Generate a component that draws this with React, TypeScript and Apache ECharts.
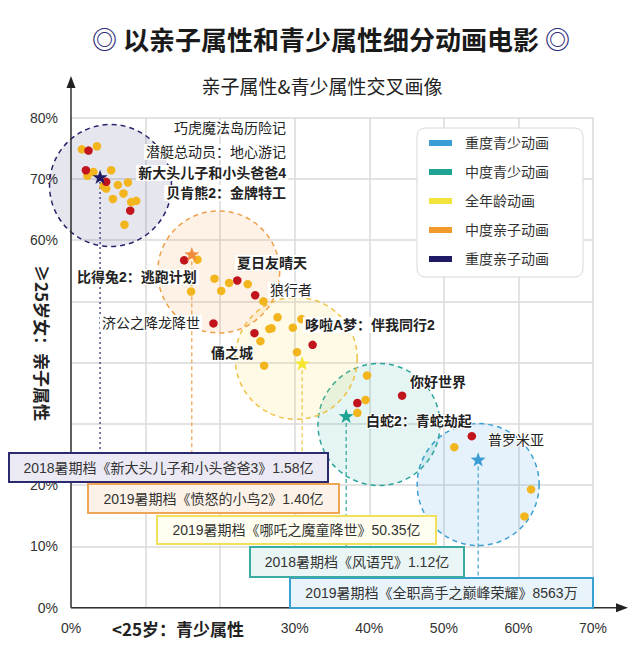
import React, { useEffect, useRef } from "react";
import * as echarts from "echarts";

// ---------- data ----------
const categories = ["重度青少动画", "中度青少动画", "全年龄动画", "中度亲子动画", "重度亲子动画"];
// circle centres (x: <25岁 %, y: ≥25岁女 %)
const circleCenters: [number, number][] = [
  [54.6, 20.1],
  [41.3, 29.9],
  [30.2, 40.7],
  [19.8, 54.8],
  [5.3, 68.9],
];
// star (representative film) positions
const starPoints: [number, number][] = [
  [54.6, 24.2],
  [36.9, 31.3],
  [31.0, 39.9],
  [16.2, 57.7],
  [3.9, 70.3],
];
// where each dashed drop line ends (y %)
const dropEnds = [4.8, 9.9, 14.9, 20.2, 25.2];

// representative film box-office annotations (same order as categories)
const boxTexts = [
  "2019暑期档《全职高手之巅峰荣耀》8563万",
  "2018暑期档《风语咒》1.12亿",
  "2019暑期档《哪吒之魔童降世》50.35亿",
  "2019暑期档《愤怒的小鸟2》1.40亿",
  "2018暑期档《新大头儿子和小头爸爸3》1.58亿",
];

// labelled films (red dots)
const labelledNames = [
  "巧虎魔法岛历险记", "潜艇总动员：地心游记", "新大头儿子和小头爸爸4", "贝肯熊2：金牌特工",
  "比得兔2：逃跑计划", "夏日友晴天", "狼行者", "济公之降龙降世",
  "俑之城", "哆啦A梦：伴我同行2", "你好世界", "白蛇2：青蛇劫起", "普罗米亚",
];
const labelledX = [2.35, 2.0, 4.72, 7.94, 15.18, 22.3, 24.7, 19.1, 24.6, 32.4, 44.4, 38.4, 53.75];
const labelledY = [74.6, 71.4, 69.5, 64.8, 56.7, 53.4, 51.0, 46.4, 44.8, 42.9, 34.6, 33.4, 28.0];

// other films (yellow dots)
const otherFilms: [number, number][] = [
  [1.46, 74.8], [3.47, 75.3], [2.2, 70.5], [3.0, 71.1], [5.39, 71.4], [4.36, 68.8], [4.72, 68.4],
  [6.29, 69.0], [7.63, 69.4], [7.04, 67.6], [5.62, 66.7], [8.07, 66.2], [8.74, 66.4], [7.17, 62.5],
  [16.96, 56.8], [19.24, 53.7], [20.14, 51.7], [21.2, 53.0], [23.7, 52.8], [16.1, 51.6], [25.8, 50.0],
  [27.7, 47.4], [30.9, 47.1], [26.6, 45.5], [26.9, 45.6], [29.75, 45.7], [25.4, 43.5], [30.3, 41.7],
  [25.9, 39.5], [39.7, 37.9], [39.5, 33.9], [38.4, 31.8], [51.4, 26.2], [61.7, 19.3], [60.8, 14.9],
];

const xTicks = [0, 10, 20, 30, 40, 50, 60, 70];
const yTicks = [0, 10, 20, 30, 40, 50, 60, 70, 80];
const xHiddenTicks = [10, 20];
const yHiddenTicks = [30, 40, 50];

// ---------- styles / layout ----------
const FONT = '"Liberation Sans", "Noto Sans CJK SC", sans-serif';
const solidColors = ["#3a9dd6", "#1fa395", "#f2e43c", "#f39a2d", "#1e1a63"];
const circleFills = [
  "rgba(50,150,220,0.12)",
  "rgba(40,170,165,0.12)",
  "rgba(250,220,60,0.13)",
  "rgba(245,150,60,0.12)",
  "rgba(30,25,100,0.11)",
];
const circleBorders = ["#3d9fd2", "#2ba59a", "#efc24a", "#efa04a", "#27246b"];
const starColors = ["#3a9dd6", "#1fa395", "#f5e52e", "#f08a3c", "#1e1a63"];
const boxBorders = ["#3b9fd0", "#3aaba0", "#f1e05a", "#f0a657", "#2b2a6e"];
const boxFills = ["#e8f3fa", "#e9f6f5", "#fffef0", "#fdf2e7", "#ebeaf4"];
const boxRects = [
  { x: 290, y: 578, w: 303, h: 30 },
  { x: 250, y: 547, w: 214, h: 30 },
  { x: 157, y: 516, w: 279, h: 28 },
  { x: 88, y: 484, w: 251, h: 29 },
  { x: 9, y: 453, w: 319, h: 29 },
];
const labelLayout = [
  { x: 288, y: 128, align: "right", bold: false, bg: true },
  { x: 288, y: 152, align: "right", bold: false, bg: true },
  { x: 288, y: 173, align: "right", bold: true, bg: true },
  { x: 288, y: 193, align: "right", bold: true, bg: true },
  { x: 75, y: 277, align: "left", bold: true, bg: true },
  { x: 235, y: 263, align: "left", bold: true, bg: true },
  { x: 268, y: 290, align: "left", bold: false, bg: true },
  { x: 202, y: 323, align: "right", bold: false, bg: true },
  { x: 211, y: 353, align: "left", bold: true, bg: false },
  { x: 303, y: 325, align: "left", bold: true, bg: true },
  { x: 410, y: 382, align: "left", bold: true, bg: false },
  { x: 366, y: 421, align: "left", bold: true, bg: false },
  { x: 488, y: 440, align: "left", bold: false, bg: false },
];

const GRID = { left: 71, right: 47, top: 117.5, bottom: 46.3 };
const AX0 = { x: 71, y: 654 - 46.3 };

const STAR =
  "path://M0,-10 L2.35,-3.24 L9.51,-3.09 L3.8,1.24 L5.88,8.09 L0,4 L-5.88,8.09 L-3.8,1.24 L-9.51,-3.09 L-2.35,-3.24 Z";

function buildOption() {
  const series: any[] = [];
  // stars first so legend takes their colour
  categories.forEach((c, i) => {
    series.push({
      name: c,
      type: "scatter",
      z: 6,
      symbol: STAR,
      symbolKeepAspect: true,
      symbolSize: 15,
      itemStyle: { color: starColors[i], opacity: 1 },
      data: [starPoints[i]],
    });
  });
  categories.forEach((c, i) => {
    series.push({
      name: c,
      type: "scatter",
      z: 1,
      symbol: "circle",
      symbolSize: 122,
      silent: true,
      itemStyle: {
        color: circleFills[i],
        borderColor: circleBorders[i],
        borderWidth: 1.5,
        borderType: [5, 4],
        opacity: 1,
      },
      data: [circleCenters[i]],
    });
    series.push({
      type: "line",
      z: 2,
      symbol: "none",
      silent: true,
      lineStyle: { color: circleBorders[i], width: 1.2, type: i === 4 ? [2, 3] : [4, 3] },
      data: [starPoints[i], [starPoints[i][0], dropEnds[i]]],
    });
  });
  series.push({
    type: "scatter",
    z: 3,
    symbolSize: 8.5,
    itemStyle: { color: "#f2b51e", opacity: 1 },
    data: otherFilms,
  });
  series.push({
    type: "scatter",
    z: 4,
    symbolSize: 8.5,
    itemStyle: { color: "#c1141c", opacity: 1 },
    data: labelledNames.map((n, i) => ({ name: n, value: [labelledX[i], labelledY[i]] })),
  });

  const graphic: any[] = [];
  // axes with arrows
  graphic.push({
    type: "line",
    z: 50,
    shape: { x1: AX0.x, y1: AX0.y, x2: AX0.x, y2: 86 },
    style: { stroke: "#333", lineWidth: 1.5 },
  });
  graphic.push({
    type: "polygon",
    z: 50,
    shape: { points: [[AX0.x, 76], [AX0.x - 4.5, 88], [AX0.x + 4.5, 88]] },
    style: { fill: "#222" },
  });
  graphic.push({
    type: "line",
    z: 50,
    shape: { x1: AX0.x, y1: AX0.y, x2: 618, y2: AX0.y },
    style: { stroke: "#333", lineWidth: 1.5 },
  });
  graphic.push({
    type: "polygon",
    z: 50,
    shape: { points: [[628, AX0.y], [616, AX0.y - 4.5], [616, AX0.y + 4.5]] },
    style: { fill: "#222" },
  });
  // titles
  graphic.push({
    type: "text",
    z: 60,
    x: 331,
    y: 38,
    style: {
      text: "{r|◎} 以亲子属性和青少属性细分动画电影 {r|◎}",
      align: "center",
      verticalAlign: "middle",
      fill: "#1a1a1a",
      font: 'bold 26px "Noto Sans CJK SC", sans-serif',
      rich: {
        r: { fill: "#2e2b7c", fontSize: 25, fontWeight: "bold", fontFamily: '"Noto Sans CJK SC", sans-serif' },
      },
    },
  });
  graphic.push({
    type: "text",
    z: 60,
    x: 322,
    y: 85,
    style: {
      text: "亲子属性&青少属性交叉画像",
      align: "center",
      verticalAlign: "middle",
      fill: "#222",
      font: '19px "Noto Sans CJK SC", sans-serif',
    },
  });
  // axis names
  graphic.push({
    type: "text",
    z: 60,
    x: 42,
    y: 343,
    rotation: -Math.PI / 2,
    style: {
      text: "≥25岁女：亲子属性",
      align: "center",
      verticalAlign: "middle",
      fill: "#222",
      font: 'bold 17px "Noto Sans CJK SC", sans-serif',
    },
  });
  graphic.push({
    type: "text",
    z: 60,
    x: 178,
    y: 628,
    style: {
      text: "<25岁：青少属性",
      align: "center",
      verticalAlign: "middle",
      fill: "#222",
      font: 'bold 17px "Noto Sans CJK SC", sans-serif',
    },
  });
  // film labels
  labelledNames.forEach((n, i) => {
    const L = labelLayout[i];
    graphic.push({
      type: "text",
      z: 40,
      x: L.x,
      y: L.y,
      style: {
        text: n,
        align: L.align,
        verticalAlign: "middle",
        fill: "#222",
        font: (L.bold ? "bold " : "") + "14px " + FONT,
        backgroundColor: L.bg ? "#ffffff" : undefined,
        padding: L.bg ? [1, 2] : 0,
        stroke: L.bg ? undefined : "#fff",
        lineWidth: L.bg ? 0 : 2,
      },
    });
  });
  // annotation boxes
  boxTexts.forEach((t, i) => {
    const b = boxRects[i];
    graphic.push({
      type: "rect",
      z: 70,
      shape: { x: b.x, y: b.y, width: b.w, height: b.h },
      style: { fill: boxFills[i], stroke: boxBorders[i], lineWidth: 2 },
    });
    graphic.push({
      type: "text",
      z: 71,
      x: b.x + b.w / 2,
      y: b.y + b.h / 2,
      style: {
        text: t,
        align: "center",
        verticalAlign: "middle",
        fill: "#333",
        font: "14px " + FONT,
      },
    });
  });

  return {
    animation: false,
    backgroundColor: "#ffffff",
    textStyle: { fontFamily: FONT },
    grid: { ...GRID, containLabel: false },
    xAxis: {
      type: "value",
      min: xTicks[0],
      max: xTicks[xTicks.length - 1],
      interval: 10,
      axisLine: { show: false },
      axisTick: { show: false },
      axisLabel: {
        color: "#333",
        fontSize: 14,
        margin: 13,
        fontFamily: FONT,
        formatter: (v: number) => (xHiddenTicks.indexOf(v) >= 0 ? "" : v + "%"),
      },
      splitLine: { show: true, lineStyle: { color: "#dadada", width: 1.5 } },
    },
    yAxis: {
      type: "value",
      min: yTicks[0],
      max: yTicks[yTicks.length - 1],
      interval: 10,
      axisLine: { show: false },
      axisTick: { show: false },
      axisLabel: {
        color: "#333",
        fontSize: 14,
        margin: 13,
        fontFamily: FONT,
        formatter: (v: number) => (yHiddenTicks.indexOf(v) >= 0 ? "" : v + "%"),
      },
      splitLine: { show: true, lineStyle: { color: "#dadada", width: 1.5 } },
    },
    legend: {
      orient: "vertical",
      left: 417,
      top: 128,
      icon: "rect",
      itemWidth: 23,
      itemHeight: 6,
      itemGap: 15,
      padding: [8, 34, 11, 12],
      backgroundColor: "#ffffff",
      borderColor: "#d8d8d8",
      borderWidth: 1,
      borderRadius: 8,
      selectedMode: false,
      textStyle: { fontSize: 14, color: "#333", padding: [0, 0, 0, 8], fontFamily: FONT },
      data: categories.map((c, i) => ({ name: c, itemStyle: { color: solidColors[i], borderWidth: 0 } })),
    },
    graphic,
    series,
  };
}

export default function App() {
  const ref = useRef<HTMLDivElement>(null);
  useEffect(() => {
    if (!ref.current) return;
    const chart = echarts.init(ref.current, null, { renderer: "svg" });
    chart.setOption(buildOption() as any);
    return () => chart.dispose();
  }, []);
  return (
    <div
      ref={ref}
      style={{ position: "absolute", left: 0, top: 0, width: 640, height: 654, background: "#fff" }}
    />
  );
}
